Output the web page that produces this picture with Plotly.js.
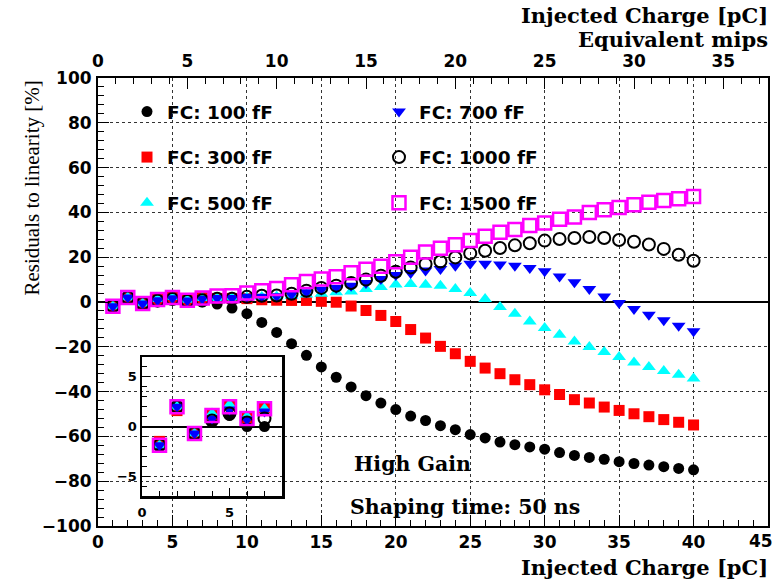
<!DOCTYPE html>
<html>
<head>
<meta charset="utf-8">
<script src="https://cdn.plot.ly/plotly-3.0.1.min.js"></script>
<style>
  html, body { margin: 0; padding: 0; background: #ffffff; }
  #chart { width: 777px; height: 580px; }
</style>
</head>
<body>
<div id="chart"></div>
<script>
// Injected charge points (pC)
const charge = [1, 2, 3, 4, 5, 6, 7, 8, 9, 10, 11, 12, 13, 14, 15, 16, 17, 18, 19, 20,
                21, 22, 23, 24, 25, 26, 27, 28, 29, 30, 31, 32, 33, 34, 35, 36, 37, 38, 39, 40];

// Residuals to linearity (%) for each feedback capacitance
const fc100 = [-1.9, 2.0, -0.7, 0.6, 1.1, 0.0, 0.0, -0.9, -2.7, -5.2, -9.1, -13.6, -18.6, -23.8, -29.0, -33.6, -37.9, -41.8, -45.1, -48.0,
               -50.9, -52.9, -55.2, -57.0, -59.2, -60.7, -62.5, -63.7, -64.7, -65.7, -67.2, -68.5, -69.4, -70.2, -71.3, -72.1, -72.8, -73.5, -74.3, -74.9];
const fc300 = [-1.5, 1.6, -0.7, 1.2, 2.1, 0.9, 1.9, 1.6, 1.6, 1.5, 1.0, 0.8, 0.7, 0.7, 0.3, -0.1, -1.8, -3.8, -6.0, -8.7,
               -12.3, -16.1, -19.8, -23.1, -26.5, -29.5, -32.0, -34.7, -36.9, -39.2, -41.3, -43.6, -45.1, -46.9, -48.4, -49.9, -51.2, -52.5, -53.7, -54.9];
const fc500 = [-1.9, 2.0, -0.7, 1.3, 2.2, 1.0, 1.8, 1.8, 2.0, 2.0, 2.2, 2.5, 2.8, 3.3, 3.7, 4.3, 4.7, 5.8, 6.7, 7.8,
               8.0, 7.7, 7.3, 5.8, 4.0, 1.3, -2.2, -5.2, -8.7, -11.6, -14.6, -17.6, -20.1, -22.3, -24.6, -27.0, -29.0, -30.8, -32.5, -34.2];
const fc700 = [-1.9, 2.0, -0.7, 0.8, 1.7, 0.7, 1.5, 1.8, 1.8, 2.3, 2.3, 2.6, 3.4, 4.4, 5.5, 6.3, 7.3, 8.5, 10.3, 12.0,
               13.0, 14.1, 14.7, 16.2, 17.1, 17.1, 16.7, 16.2, 15.2, 13.7, 11.4, 8.8, 5.8, 2.5, -0.4, -3.1, -5.7, -8.2, -10.6, -13.1];
const fc1000 = [-1.9, 2.0, -0.7, 0.6, 1.3, 0.4, 0.8, 1.5, 1.5, 2.3, 2.8, 2.9, 3.7, 5.0, 6.3, 7.3, 8.5, 10.0, 11.7, 13.5,
                15.4, 17.0, 18.1, 19.9, 21.7, 22.9, 24.1, 25.3, 26.2, 27.4, 28.1, 28.6, 29.0, 28.6, 27.7, 26.9, 25.7, 23.7, 21.1, 18.4];
const fc1500 = [-1.9, 2.0, -0.7, 1.1, 2.0, 0.8, 1.8, 2.7, 2.8, 4.0, 5.0, 6.0, 7.7, 9.2, 10.3, 11.3, 13.1, 14.6, 16.0, 18.0,
                20.0, 22.3, 24.0, 25.6, 27.5, 29.3, 31.1, 32.4, 34.1, 35.3, 36.9, 38.0, 40.0, 41.2, 42.2, 43.4, 44.5, 45.3, 46.1, 47.1];

const seriesNames = ["FC: 100 fF", "FC: 300 fF", "FC: 500 fF", "FC: 700 fF", "FC: 1000 fF", "FC: 1500 fF"];
const seriesValues = [fc100, fc300, fc500, fc700, fc1000, fc1500];

// bottom axis ticks (pC); the label at the right end is written separately,
// right-aligned, so it stays inside the page
const chargeTickVals = [0, 5, 10, 15, 20, 25, 30, 35, 40, 45];
const chargeTickText = ["0", "5", "10", "15", "20", "25", "30", "35", "40", ""];
const chargeEndLabel = "45";

// 1 equivalent mip corresponds to 1.2 pC
const pcPerMip = 1.2;
const chargeMax = 45;
const insetPoints = 7;

// marker styles per series
const markerStyles = [
  {symbol: "circle", color: "#000000", size: 11},
  {symbol: "square", color: "#ff0000", size: 11},
  {symbol: "triangle-up", color: "#00ffff", size: 12},
  {symbol: "triangle-down", color: "#0000ff", size: 12},
  {symbol: "circle-open", color: "#000000", size: 12, line: {width: 2, color: "#000000"}},
  {symbol: "square-open", color: "#ff00ff", size: 13, line: {width: 2.5, color: "#ff00ff"}}
];

// plot frame in pixels
const W = 777, H = 580;
const L = 98, R = 768, T = 78, B = 526;
const px = x => (x - L) / (R - L);
const py = y => (B - y) / (B - T);

const tickFont = {family: "DejaVu Sans", size: 17, weight: "bold", color: "#000"};
const axisTitleFont = {family: "DejaVu Serif", size: 21, weight: "bold", color: "#000"};
const textFont = {family: "DejaVu Serif", size: 20.5, weight: "bold", color: "#000"};
const legendFont = {family: "DejaVu Sans", size: 18.5, weight: "bold", color: "#000"};
const insetFont = {family: "DejaVu Sans", size: 13, weight: "bold", color: "#000"};

const traces = [];
seriesValues.forEach((vals, i) => {
  const st = markerStyles[i];
  traces.push({
    type: "scatter", mode: "markers",
    x: charge, y: vals,
    name: seriesNames[i],
    legend: i < 3 ? "legend" : "legend2",
    legendgroup: "g" + i,
    xaxis: "x", yaxis: "y",
    marker: {symbol: st.symbol, color: st.color, size: st.size, line: st.line || {width: 0}},
    cliponaxis: false
  });
});
// zoom on the first points
seriesValues.forEach((vals, i) => {
  const st = markerStyles[i];
  traces.push({
    type: "scatter", mode: "markers",
    x: charge.slice(0, insetPoints), y: vals.slice(0, insetPoints),
    showlegend: false,
    xaxis: "x3", yaxis: "y3",
    marker: {symbol: st.symbol, color: st.color, size: st.size, line: st.line || {width: 0}}
  });
});

const inset = {x0: 142, x1: 282, y0: 357, y1: 496};

const layout = {
  width: W, height: H,
  margin: {l: L, r: W - R, t: T, b: H - B, pad: 0, autoexpand: false},
  paper_bgcolor: "#ffffff",
  plot_bgcolor: "rgba(0,0,0,0)",
  showlegend: true,
  xaxis: {
    range: [0, chargeMax], tickmode: "array", tickvals: chargeTickVals, ticktext: chargeTickText,
    ticks: "inside", ticklen: 11, tickwidth: 1, tickcolor: "#000",
    minor: {dtick: 1, tick0: 0, ticklen: 6, tickwidth: 1, tickcolor: "#000", ticks: "inside", showgrid: false},
    showline: true, linewidth: 2, linecolor: "#000",
    showgrid: true, gridcolor: "#333", gridwidth: 1, griddash: "dot",
    zeroline: false, tickfont: tickFont, ticklabelstandoff: 0
  },
  xaxis2: {
    overlaying: "x", side: "top", anchor: "y",
    range: [0, chargeMax / pcPerMip], tick0: 0, dtick: 5,
    ticks: "inside", ticklen: 11, tickwidth: 1, tickcolor: "#000",
    minor: {dtick: 1, ticklen: 6, tickwidth: 1, tickcolor: "#000", ticks: "inside"},
    showline: true, linewidth: 2, linecolor: "#000",
    showgrid: false, zeroline: false, tickfont: tickFont, ticklabelstandoff: 2
  },
  yaxis: {
    range: [-100, 100], tick0: 0, dtick: 20,
    ticks: "inside", ticklen: 11, tickwidth: 1, tickcolor: "#000",
    minor: {dtick: 4, ticklen: 6, tickwidth: 1, tickcolor: "#000", ticks: "inside", showgrid: false},
    showline: true, linewidth: 2, linecolor: "#000", mirror: true,
    showgrid: true, gridcolor: "#333", gridwidth: 1, griddash: "dot",
    zeroline: true, zerolinecolor: "#000", zerolinewidth: 2,
    tickfont: tickFont, ticklabelstandoff: 1
  },
  xaxis3: {
    domain: [px(inset.x0), px(inset.x1)], anchor: "y3",
    range: [0, 8], tick0: 0, dtick: 5,
    ticks: "inside", ticklen: 8, tickwidth: 1, tickcolor: "#000",
    minor: {dtick: 1, ticklen: 5, tickwidth: 1, tickcolor: "#000", ticks: "inside"},
    showline: true, linewidth: 2.5, linecolor: "#000", mirror: true,
    showgrid: false, zeroline: false,
    tickfont: insetFont, ticklabelstandoff: 3
  },
  yaxis3: {
    domain: [py(inset.y1), py(inset.y0)], anchor: "x3",
    range: [-7, 7], tick0: 0, dtick: 5,
    ticks: "inside", ticklen: 8, tickwidth: 1, tickcolor: "#000",
    minor: {dtick: 1, ticklen: 5, tickwidth: 1, tickcolor: "#000", ticks: "inside"},
    showline: true, linewidth: 2.5, linecolor: "#000", mirror: true,
    showgrid: true, gridcolor: "#333", gridwidth: 1, griddash: "dot",
    zeroline: true, zerolinecolor: "#000", zerolinewidth: 2,
    tickfont: insetFont, ticklabelstandoff: 0
  },
  legend: {
    xref: "paper", yref: "paper",
    x: px(127), y: py(93), xanchor: "left", yanchor: "top",
    bgcolor: "rgba(0,0,0,0)", borderwidth: 0,
    traceorder: "grouped", tracegroupgap: 18.5,
    font: legendFont
  },
  legend2: {
    xref: "paper", yref: "paper",
    x: px(379), y: py(93), xanchor: "left", yanchor: "top",
    bgcolor: "rgba(0,0,0,0)", borderwidth: 0,
    traceorder: "grouped", tracegroupgap: 18.5,
    font: legendFont
  },
  annotations: [
    {text: chargeEndLabel, xref: "paper", yref: "paper", x: px(775), y: py(541),
     xanchor: "right", yanchor: "middle", showarrow: false, font: tickFont},
    {text: "Injected Charge [pC]", xref: "paper", yref: "paper", x: px(770), y: py(15),
     xanchor: "right", yanchor: "middle", showarrow: false, font: axisTitleFont},
    {text: "Equivalent mips", xref: "paper", yref: "paper", x: px(770), y: py(40),
     xanchor: "right", yanchor: "middle", showarrow: false, font: axisTitleFont},
    {text: "Injected Charge [pC]", xref: "paper", yref: "paper", x: px(770), y: py(567),
     xanchor: "right", yanchor: "middle", showarrow: false, font: axisTitleFont},
    {text: "Residuals to linearity [%]", xref: "paper", yref: "paper", x: px(31), y: py(79),
     xanchor: "center", yanchor: "top", textangle: -90, showarrow: false,
     font: {family: "Liberation Serif", size: 21, color: "#000"}},
    {text: "High Gain", xref: "paper", yref: "paper", x: px(412), y: py(464),
     xanchor: "center", yanchor: "middle", showarrow: false, font: textFont},
    {text: "Shaping time: 50 ns", xref: "paper", yref: "paper", x: px(465), y: py(507),
     xanchor: "center", yanchor: "middle", showarrow: false, font: textFont}
  ]
};

// keep the mips axis alive with an empty trace bound to it
traces.push({type: "scatter", mode: "markers", x: [], y: [], xaxis: "x2", yaxis: "y", showlegend: false, hoverinfo: "skip"});

Plotly.newPlot("chart", traces, layout, {staticPlot: true, displayModeBar: false});
</script>
</body>
</html>
